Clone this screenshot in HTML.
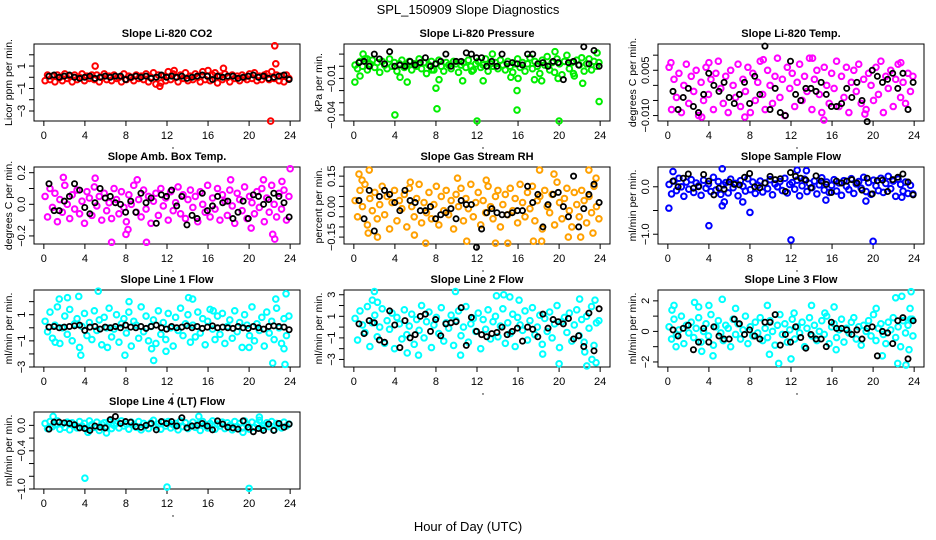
<!DOCTYPE html>
<html><head><meta charset="utf-8"><style>
body{margin:0;background:#fff}
svg{display:block;font-family:"Liberation Sans",sans-serif}
</style></head><body>
<svg id="c" width="936" height="540" viewBox="0 0 936 540">
<text x="468" y="14" text-anchor="middle" font-size="13">SPL_150909  Slope Diagnostics</text>
<text x="468" y="531" text-anchor="middle" font-size="13">Hour of Day (UTC)</text>
</svg>
<script>
const xTicks=[0,4,8,12,16,20,24];
const titles=["Slope Li-820 CO2","Slope Li-820 Pressure","Slope Li-820 Temp.","Slope Amb. Box Temp.","Slope Gas Stream RH","Slope Sample Flow","Slope Line 1 Flow","Slope Line 2 Flow","Slope Line 3 Flow","Slope Line 4 (LT) Flow"];
const yTitles=["Licor ppm per min.","kPa per min.","degrees C per min.","degrees C per min.","percent per min.","ml/min per min.","ml/min per min.","ml/min per min.","ml/min per min.","ml/min per min."];
const colors=["#ff0000","#00ee00","#ff00ff","#ff00ff","#ffa000","#0000ff","#00ffff","#00ffff","#00ffff","#00ffff"];
const yLims=[[-3.89,2.96],[-0.045,0.0183],[-0.0118,0.0137],[-0.251,0.236],[-0.184,0.195],[-1.206,0.417],[-3.0,2.89],[-3.7,3.44],[-2.33,2.71],[-1.0,0.21]];
const yTickVals=[[-3,-2,-1,0,1,2],[-0.04,-0.03,-0.02,-0.01,0,0.01],[-0.01,-0.005,0,0.005,0.01],[-0.2,-0.1,0,0.1,0.2],[-0.15,-0.1,-0.05,0,0.05,0.1,0.15],[-1,-0.5,0],[-3,-2,-1,0,1,2],[-3,-2,-1,0,1,2,3],[-2,-1,0,1,2],[-1,-0.8,-0.6,-0.4,-0.2,0]];
const yLabelVals=[[-3,-1,1],[-0.04,-0.01],[-0.01,0.005],[-0.2,0,0.2],[-0.15,0,0.15],[-1,0],[-3,-1,1],[-3,-1,1,3],[-2,0,2],[-1,-0.4,0]];
const yLabelText=[["−3","−1","1"],["−0.04","−0.01"],["−0.010","0.005"],["−0.2","0.0","0.2"],["−0.15","0.00","0.15"],["−1.0","0.0"],["−3","−1","1"],["−3","−1","1","3"],["−2","0","2"],["−1.0","−0.4","0.0"]];

const p1Main=[-0.3,0.2,-0.2,0.1,-0.4,0.2,0,-0.3,0.3,-0.1,0.1,-0.4,0.2,-0.2,0,0.3,-0.3,0.1,-0.1,0.2,-0.2,0.2,-0.4,0,0.3,-0.2,0.1,-0.3,0.2,-0.1,0,-0.4,0.3,-0.2,0.1,0,-0.3,0.2,-0.1,0.1,-0.2,0.3,-0.4,0,0.4,-0.6,0.2,-0.5,0.1,-0.3,0.5,-0.2,0.3,0,-0.4,0.2,-0.1,0.4,-0.3,0.1,-0.2,0.3,0,-0.4,0.5,-0.2,0.1,-0.3,0.2,0.4,-0.5,0.1,-0.2,0.3,0,-0.4,0.2,-0.1,0.1,-0.3,0.2,0,-0.2,0.3,-0.1,0.4,-0.3,0.1,-0.2,0.2,0.3,-0.2,0.5,-0.1,0.2,-0.3,0.1,-0.4,0.2,-0.1];
const p1OutX=[5.0,11.3,17.5,22.1,22.5,22.6,16.0,12.7];
const p1OutY=[1.0,-0.8,0.8,-3.9,2.8,1.2,0.6,0.6];
const p1Black=[0.1,0.2,0,0.1,0.2,0,-0.1,0,0.1,-0.1,0,0.1,0,0.1,0.1,-0.2,0,0.1,0,0.1,-0.1,0,0.2,0,0.1,0,0.1,-0.1,0,0.1,0.2,0.1,-0.2,0.1,0,0.1,0.1,-0.1,0,0.1,0.2,0,0.1,-0.1,0,0.1,0.2,-0.2];

const p2Main=[0.001,-0.002,0.004,0.000,0.006,-0.003,0.002,0.005,-0.001,0.003,-0.005,0.004,0.001,-0.002,0.006,0.000,0.003,-0.004,0.002,0.005,-0.001,0.001,0.004,-0.003,0.002,0.000,0.006,-0.002,0.003,-0.006,0.001,0.004,-0.003,0.002,0.005,0.000,-0.004,0.003,0.001,-0.002,0.004,0.002,-0.005,0.001,0.003,-0.001,0.005,0.000,-0.003,0.002,0.004,-0.001,0.001,0.006,-0.004,0.002,0.000,0.003,-0.002,0.005,0.001,-0.003,0.004,0.000,-0.005,0.002,0.006,-0.001,0.003,-0.004,0.002,0.007,-0.002,0.004,0.000,-0.006,0.005,0.001,0.008,-0.003,0.003,-0.005,0.006,0.002,-0.007,0.004,0.009,-0.002,0.003,-0.008,0.005,0.001,0.007,-0.004,0.002,0.006,-0.003,0.004,0.000,0.003];
const p2OutX=[0.1,0.6,0.9,1.3,4.0,4.5,5.2,7.6,8.0,8.1,8.3,10.6,11.5,12.0,12.6,13.5,15.3,15.9,15.9,16.0,17.6,18.3,19.6,19.9,20.0,21.4,22.3,23.7,23.9];
const p2OutY=[-0.013,-0.008,0.010,0.006,-0.040,-0.009,-0.013,-0.003,-0.018,-0.035,-0.011,-0.012,-0.004,-0.045,-0.012,0.010,-0.009,-0.020,-0.036,-0.010,-0.011,-0.012,0.012,-0.010,-0.045,-0.006,-0.014,0.011,-0.029];
const p2Black=[0.003,0.004,0.000,0.010,0.006,0.002,0.012,0.000,0.001,0.000,0.004,0.001,0.003,0.007,0.000,0.002,0.004,0.010,0.000,0.004,0.004,0.011,0.010,0.007,0.007,0.000,0.004,0.000,0.010,0.002,0.003,0.002,0.001,0.010,0.010,0.002,0.003,0.000,0.004,0.003,-0.011,0.003,0.004,0.001,0.016,0.002,0.013,0.000];

const p3Main=[0.006,-0.008,0.002,-0.004,0.004,-0.009,0.000,0.007,-0.006,0.003,-0.002,0.005,-0.010,0.001,-0.005,0.006,-0.003,0.002,-0.008,0.004,0.008,-0.001,-0.006,0.003,-0.009,0.005,0.000,-0.004,0.007,-0.007,0.002,-0.002,0.006,-0.009,0.004,-0.005,0.001,0.008,-0.003,-0.008,0.005,0.000,-0.006,0.003,0.009,-0.004,0.002,-0.010,0.006,-0.001,0.004,-0.007,0.001,0.007,-0.005,0.003,-0.002,0.009,-0.008,0.002,0.005,-0.003,-0.009,0.006,0.000,-0.006,0.004,-0.001,0.008,-0.007,0.003,-0.004,0.006,-0.009,0.001,0.005,-0.002,0.007,-0.006,0.002,-0.008,0.004,0.000,-0.005,0.006,-0.003,0.008,-0.009,0.003,-0.001,0.005,-0.007,0.002,0.007,-0.004,0.001,-0.006,0.004,-0.002,0.003];
const p3OutX=[0.3,3.3,9.3,14.1,15.2,4.0,19.2,7.5,22.7];
const p3OutY=[0.0075,-0.0105,0.0085,0.009,-0.0115,0.0075,-0.0095,-0.0105,0.0075];
const p3Black=[-0.002,-0.008,-0.004,-0.001,-0.007,-0.009,-0.003,0.004,0.000,-0.002,0.001,-0.004,-0.006,-0.003,0.001,-0.006,0.003,-0.003,0.013,-0.008,-0.001,-0.009,-0.010,0.008,-0.003,-0.005,-0.001,-0.001,-0.002,0.001,-0.003,-0.007,-0.007,-0.006,-0.001,-0.004,0.001,-0.005,-0.012,0.005,0.003,0.001,0.002,0.004,-0.001,0.004,-0.008,0.001];

const p4Main=[0.05,-0.08,0.10,-0.02,0.07,-0.11,0.03,-0.05,0.12,0.00,-0.09,0.06,-0.03,0.09,-0.06,0.02,-0.12,0.08,0.04,-0.07,0.11,-0.01,0.05,-0.10,0.07,-0.04,0.01,-0.09,0.10,0.03,-0.06,0.08,-0.02,-0.11,0.06,0.00,0.12,-0.05,0.03,-0.08,0.09,-0.03,0.05,-0.12,0.02,0.07,-0.07,0.10,-0.01,0.04,-0.10,0.08,-0.04,0.01,0.11,-0.06,0.06,-0.09,0.03,0.09,-0.02,0.05,-0.11,0.08,0.00,-0.05,0.12,-0.08,0.04,-0.03,0.10,-0.10,0.06,0.02,-0.07,0.09,-0.01,-0.12,0.07,0.03,-0.04,0.11,-0.09,0.05,0.01,-0.06,0.08,-0.02,0.10,-0.11,0.04,-0.05,0.12,0.00,-0.08,0.07,-0.03,0.09,-0.10,0.05];
const p4OutX=[1.9,5.0,6.6,8.0,8.2,9.1,10.0,18.2,20.2,22.3,22.5,23.2,24.0,21.4];
const p4OutY=[0.17,0.165,-0.24,-0.19,-0.16,0.155,-0.24,0.155,-0.15,-0.19,-0.22,0.145,0.225,0.155];
const p4Black=[0.13,-0.04,-0.04,0.02,0.05,0.13,0.09,-0.02,-0.06,0.01,0.10,0.04,0.05,0.01,0.00,-0.05,0.02,-0.05,0.07,0.01,0.04,-0.12,0.06,0.05,0.09,-0.01,0.05,-0.13,-0.07,-0.09,0.07,-0.04,-0.01,0.05,0.01,0.02,-0.09,-0.05,0.02,-0.09,0.06,0.05,0.00,0.03,0.07,0.05,0.01,-0.08];

const p5Main=[0.03,-0.05,0.08,0.00,0.11,-0.09,0.04,-0.02,0.07,-0.06,0.01,0.10,-0.04,0.05,-0.11,0.02,0.08,-0.07,0.03,-0.01,0.06,-0.10,0.09,0.00,-0.05,0.04,0.11,-0.08,0.02,-0.03,0.07,-0.06,0.01,0.10,-0.09,0.05,-0.02,0.08,-0.04,0.03,-0.11,0.06,0.00,0.09,-0.07,0.04,-0.01,0.11,-0.05,0.02,0.07,-0.09,0.03,-0.03,0.10,0.00,-0.06,0.05,0.08,-0.10,0.01,0.06,-0.04,0.09,-0.02,0.04,-0.08,0.11,0.02,-0.05,0.07,-0.01,0.10,-0.07,0.03,0.05,-0.11,0.08,0.00,-0.03,0.06,-0.09,0.12,0.02,-0.06,0.04,0.09,-0.02,-0.10,0.07,0.01,-0.05,0.08,0.03,-0.08,0.05,-0.03,0.10,0.00,-0.06];
const p5OutX=[0.5,1.5,0.8,1.4,2.3,5.5,7.0,10.1,11.0,12.9,13.8,15.0,17.5,18.1,18.3,19.5,20.9,22.1,22.9,23.3,23.6,5.9];
const p5OutY=[0.16,0.18,0.13,-0.13,-0.15,0.12,-0.18,0.14,-0.17,0.13,-0.18,-0.18,-0.17,0.18,-0.17,0.16,-0.15,-0.15,0.18,-0.13,0.14,-0.14];
const p5Black=[0.03,-0.06,0.08,-0.12,0.05,0.08,0.06,0.02,-0.02,0.08,0.03,0.02,-0.02,-0.02,0.00,-0.06,-0.04,-0.03,-0.01,-0.06,0.03,0.01,0.01,-0.20,-0.11,-0.03,-0.01,-0.03,-0.04,-0.04,-0.03,-0.02,-0.02,0.10,0.02,0.06,-0.10,0.01,0.06,0.07,0.00,-0.05,0.15,-0.10,-0.01,0.06,0.11,0.02];

const p6Main=[0.05,-0.15,0.12,-0.08,0.18,0.00,-0.20,0.10,-0.05,0.15,-0.12,0.08,0.02,-0.18,0.14,-0.03,0.06,-0.10,0.20,-0.07,0.11,-0.16,0.04,0.09,-0.13,0.16,-0.02,0.07,-0.19,0.13,0.01,-0.09,0.17,-0.06,0.10,-0.14,0.03,0.12,-0.11,0.08,-0.04,0.15,-0.17,0.06,0.00,0.11,-0.08,0.18,-0.13,0.05,0.09,-0.05,0.14,-0.19,0.02,0.16,-0.10,0.07,-0.02,0.12,-0.15,0.04,0.19,-0.07,0.10,-0.12,0.03,0.15,-0.09,0.08,-0.18,0.13,0.01,-0.06,0.17,-0.14,0.06,0.11,-0.03,0.20,-0.10,0.09,-0.16,0.14,0.02,-0.08,0.18,-0.12,0.07,0.22,-0.04,0.12,-0.20,0.16,0.05,-0.09,0.10,-0.14,0.03,-0.15];
const p6OutX=[0.1,0.5,4.0,5.3,5.3,5.5,7.3,8.0,12.0,12.6,13.5,15.4,19.3,20.0,22.8];
const p6OutY=[-0.45,0.32,-0.82,0.38,-0.40,-0.32,-0.32,-0.54,-1.12,0.35,0.34,-0.28,-0.30,-1.15,-0.22];
const p6Black=[0.12,0.00,0.18,0.27,-0.03,0.00,0.26,0.12,-0.17,-0.03,-0.05,0.10,0.05,0.04,0.20,0.28,0.00,-0.02,0.08,0.22,0.15,0.17,-0.10,0.30,0.22,0.18,0.14,-0.02,0.23,0.12,0.05,-0.12,0.12,0.08,0.12,0.15,0.08,-0.07,0.18,-0.15,0.13,0.14,-0.10,0.15,0.20,0.27,0.10,-0.17];

const p7Main=[0.5,-0.3,1.2,-0.8,0.2,1.6,-1.2,0.0,0.9,-0.5,1.4,-1.0,0.3,0.7,-1.5,0.1,1.1,-0.6,0.4,-0.9,1.3,-0.2,0.6,-1.3,0.8,0.0,1.5,-0.7,-0.1,1.0,-1.1,0.3,0.7,-0.4,1.2,-1.4,0.5,0.2,-0.8,1.6,-0.3,0.9,-1.0,0.1,0.6,-1.2,1.3,-0.5,0.4,-0.9,1.1,0.0,-1.4,0.8,-0.2,1.5,-0.6,0.3,1.0,-1.1,0.2,-0.7,1.2,-0.4,0.7,-1.3,0.5,1.4,-0.1,-0.9,0.9,-0.5,1.1,-1.2,0.1,0.6,-0.8,1.3,-0.3,0.4,-1.5,1.0,0.2,-0.6,1.6,-1.0,0.3,-0.2,0.8,-1.4,1.2,-0.4,0.5,-0.9,1.5,0.0,-1.2,0.7,-0.6,0.9];
const p7OutX=[1.5,2.3,3.4,3.6,5.3,6.2,7.9,8.3,10.5,10.7,11.9,14.1,14.5,20.0,22.3,22.6,23.5,23.6,23.4,1.1,16.5];
const p7OutY=[2.2,2.3,2.4,-2.1,2.8,-1.5,-2.1,2.0,-1.6,-2.5,-1.8,2.3,2.2,-1.5,-2.7,2.2,-2.8,2.6,-1.6,-1.1,1.3];
const p7Black=[0.05,0.1,0.0,0.05,0.1,0.15,0.2,-0.2,0.05,0.1,-0.1,0.05,0.0,0.1,0.0,0.2,0.05,0.0,0.1,-0.05,0.1,0.2,0.0,-0.1,0.1,0.0,0.05,0.15,0.0,0.1,-0.05,0.05,0.15,0.0,0.05,0.0,-0.05,0.1,0.0,-0.05,0.1,0.0,-0.1,0.1,0.15,0.1,0.05,-0.15];

const p8Main=[0.8,-1.2,1.5,0.2,-0.5,1.9,-1.8,0.4,1.1,-0.9,0.0,1.7,-1.5,0.6,-0.2,1.3,-2.0,0.9,0.3,-1.1,1.6,-0.7,0.1,1.2,-1.6,0.7,-0.3,2.0,-1.0,0.5,1.4,-1.9,0.2,0.9,-0.6,1.8,-1.3,0.4,-0.1,1.1,-1.7,0.6,1.5,-0.8,0.0,1.9,-1.4,0.3,0.8,-0.4,1.3,-2.0,0.7,-0.2,1.6,-1.1,0.5,1.0,-0.9,0.1,1.7,-1.5,0.4,-0.6,1.2,-1.8,0.9,0.2,-0.3,1.5,-1.2,0.6,1.8,-0.7,0.0,1.1,-1.6,0.8,-0.4,1.4,-1.0,0.3,2.0,-1.9,0.5,0.9,-0.5,1.3,-1.3,0.2,1.6,-0.8,0.7,-1.4,1.0,-0.1,1.9,-1.7,0.4,0.6];
const p8OutX=[2.0,1.8,2.3,5.2,6.3,9.9,10.4,13.9,14.6,15.2,16.1,18.4,20.0,22.0,22.5,22.7,23.2,23.5,23.6];
const p8OutY=[3.3,2.5,2.3,-2.4,-2.6,3.3,-2.6,2.9,3.0,2.8,2.5,-2.5,-3.4,2.6,-2.3,-3.6,-3.0,2.5,-3.3];
const p8Black=[0.3,-0.6,0.6,0.4,-1.2,-1.4,1.5,0.2,-1.9,0.6,-1.0,-0.7,1.0,1.2,-0.4,0.7,-0.8,0.3,0.4,0.5,1.8,-1.7,0.9,-0.4,-0.7,-0.9,-0.6,-0.5,0.0,-0.7,-0.4,-0.1,-1.3,0.0,-0.2,-0.9,1.2,-0.1,0.7,0.5,0.3,0.8,-1.1,-0.8,-1.8,1.3,-2.2,1.7];

const p9Main=[0.3,-0.5,0.8,-0.2,0.1,1.0,-0.8,0.4,-0.1,0.6,-0.4,0.2,0.9,-0.7,0.0,0.5,-0.3,1.1,-0.9,0.3,0.7,-0.1,-0.6,0.4,0.2,-1.0,0.8,-0.2,0.5,-0.5,0.1,1.0,-0.8,0.3,-0.3,0.6,-0.1,0.9,-0.6,0.2,-0.4,0.7,0.0,-0.9,0.4,1.1,-0.2,0.5,-0.7,0.1,0.8,-0.5,0.3,-0.1,0.6,-1.0,0.2,0.9,-0.3,0.4,-0.6,0.0,0.7,-0.2,1.0,-0.8,0.3,0.5,-0.4,0.1,0.8,-0.7,0.2,-0.1,0.6,0.9,-0.5,0.3,-0.9,0.4,0.0,0.7,-0.3,1.1,-0.6,0.2,0.5,-0.2,-0.8,0.6,0.1,0.9,-0.4,0.3,-1.0,0.7,-0.1,0.4,0.8,-0.3];
const p9OutX=[0.4,0.6,0.8,2.6,3.0,3.3,4.0,4.4,5.3,6.6,9.7,9.9,10.8,12.0,12.3,14.0,15.3,16.2,16.4,20.3,20.9,22.2,22.4,22.8,23.2,23.6,23.5,23.7,23.8];
const p9OutY=[1.4,1.7,-1.0,1.9,1.6,-1.3,1.7,-1.6,2.1,1.5,1.7,-1.5,-2.1,-1.8,1.2,1.7,1.2,1.6,-1.2,1.5,-1.6,2.2,-2.1,2.3,-2.2,1.5,-1.2,2.6,0.8];
const p9Black=[0.1,-0.3,0.2,0.4,-1.2,-0.7,0.2,-0.7,0.3,-0.3,-0.5,-0.5,0.8,0.5,-0.2,0.1,-0.3,-0.5,0.6,0.6,1.1,-0.9,-0.2,-0.7,0.3,-0.4,-1.1,-0.2,-0.5,-0.5,-1.0,0.6,0.2,0.2,0.1,-0.2,0.1,-0.5,0.2,0.3,-1.6,0.0,-0.1,-0.8,0.7,0.9,-1.8,0.7];

const p10Main=[0.03,-0.05,0.06,-0.02,0.01,0.07,-0.06,0.02,-0.03,0.05,-0.07,0.04,0.00,-0.04,0.06,-0.01,0.03,-0.06,0.07,0.01,-0.03,0.05,-0.08,0.02,0.04,-0.02,0.06,-0.05,0.00,0.03,-0.04,0.07,-0.01,0.02,-0.06,0.05,0.01,-0.03,0.06,-0.07,0.03,0.00,-0.05,0.04,0.08,-0.02,0.02,-0.06,0.05,-0.01,0.06,-0.04,0.01,0.03,-0.07,0.07,-0.02,0.04,-0.05,0.00,0.05,-0.03,0.02,-0.08,0.06,0.01,-0.04,0.03,0.07,-0.06,0.02,-0.01,0.05,-0.05,0.04,0.00,-0.07,0.06,-0.02,0.03,-0.04,0.07,0.01,-0.06,0.05,-0.03,0.02,0.08,-0.05,0.00,0.04,-0.02,0.06,-0.07,0.03,0.01,-0.04,0.05,-0.01,0.02];
const p10OutX=[0.9,4.0,4.3,6.1,12.0,15.1,19.4,20.0,21.0];
const p10OutY=[0.14,-0.83,-0.11,-0.12,-0.97,0.14,-0.11,-0.99,0.13];
const p10Black=[-0.06,0.05,0.05,0.04,0.03,0.01,-0.04,-0.05,-0.08,-0.01,-0.03,-0.04,0.09,0.14,0.03,0.06,0.05,-0.02,-0.03,0.00,0.03,-0.07,0.06,0.03,0.06,-0.01,0.12,-0.04,-0.01,0.00,0.03,-0.01,-0.07,0.07,0.02,-0.03,-0.04,-0.06,0.07,-0.03,-0.10,-0.05,-0.08,0.02,-0.08,0.03,-0.03,0.02];

const mains=[p1Main,p2Main,p3Main,p4Main,p5Main,p6Main,p7Main,p8Main,p9Main,p10Main];
const outXs=[p1OutX,p2OutX,p3OutX,p4OutX,p5OutX,p6OutX,p7OutX,p8OutX,p9OutX,p10OutX];
const outYs=[p1OutY,p2OutY,p3OutY,p4OutY,p5OutY,p6OutY,p7OutY,p8OutY,p9OutY,p10OutY];
const blacks=[p1Black,p2Black,p3Black,p4Black,p5Black,p6Black,p7Black,p8Black,p9Black,p10Black];

const NS="http://www.w3.org/2000/svg";
const svg=document.getElementById('c');
const colL=[34,344,658], rowT=[44,167,290,412], W=266, H=77;
function mk(tag,attrs,parent){const e=document.createElementNS(NS,tag);for(const k in attrs)e.setAttribute(k,attrs[k]);(parent||svg).appendChild(e);return e;}

for(let p=0;p<10;p++){
  const L=colL[p%3], T=rowT[Math.floor(p/3)];
  const g=mk('g',{});
  
  
  const xs=v=>L+(v+0.96)/25.92*W;
  const [y0,y1]=yLims[p];
  const ys=v=>T+H-(v-y0)/(y1-y0)*H;
  const box=mk('rect',{x:L,y:T,width:W,height:H,fill:'none',stroke:'#000','stroke-width':1},g);
  
  
  const tt=mk('text',{x:L+W/2,y:T-7,'text-anchor':'middle','font-size':11,'font-weight':'bold'},g);
  tt.textContent=titles[p];
  
  
  const yt=mk('text',{x:0,y:0,'text-anchor':'middle','font-size':10.5,transform:`translate(${L-22},${T+H/2}) rotate(-90)`},g);
  yt.textContent=yTitles[p];
  
  
  xTicks.forEach(v=>{
    mk('line',{x1:xs(v),x2:xs(v),y1:T+H,y2:T+H+5,stroke:'#000'},g);
    const t=mk('text',{x:xs(v),y:T+H+18,'text-anchor':'middle','font-size':11},g);
    t.textContent=v;
    
    
  });
  mk('circle',{cx:xs(12)+6,cy:T+H+27,r:0.7,fill:'#000'},g);
  yTickVals[p].forEach(v=>{mk('line',{x1:L-5,x2:L,y1:ys(v),y2:ys(v),stroke:'#000'},g);});
  yLabelVals[p].forEach((v,i)=>{
    const t=mk('text',{x:0,y:0,'text-anchor':'middle','font-size':11,transform:`translate(${L-9},${ys(v)}) rotate(-90)`},g);
    t.textContent=yLabelText[p][i];
    
    
  });
  const n=mains[p].length;
  mains[p].forEach((v,i)=>{
    const c=mk('circle',{cx:xs(24*(i+0.5)/n),cy:ys(v),r:2.8,fill:'none',stroke:colors[p],'stroke-width':2},g);
    
    
  });
  outXs[p].forEach((x,i)=>{
    const c=mk('circle',{cx:xs(x),cy:ys(outYs[p][i]),r:2.8,fill:'none',stroke:colors[p],'stroke-width':2},g);
    
    
  });
  const m=blacks[p].length;
  blacks[p].forEach((v,i)=>{
    const c=mk('circle',{cx:xs(0.5+i*23.4/(m-1)),cy:ys(v),r:2.6,fill:'none',stroke:'#000','stroke-width':1.8},g);
    
    
  });
}
</script>
</body></html>
